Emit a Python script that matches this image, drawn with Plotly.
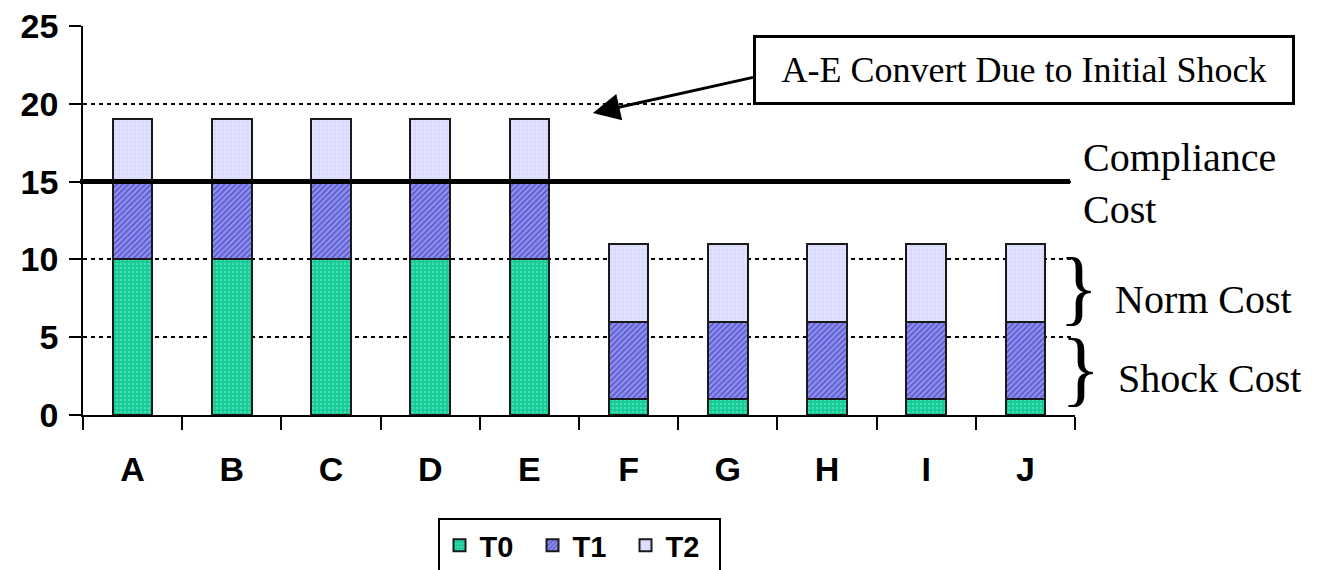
import plotly.graph_objects as go

categories = ["A", "B", "C", "D", "E", "F", "G", "H", "I", "J"]
t0 = [10, 10, 10, 10, 10, 1, 1, 1, 1, 1]
t1 = [5, 5, 5, 5, 5, 5, 5, 5, 5, 5]
t2 = [4, 4, 4, 4, 4, 5, 5, 5, 5, 5]
compliance_cost = 15
y_ticks = [0, 5, 10, 15, 20, 25]

series = [
    ("T0", t0, dict(bgcolor="#12cc98", fgcolor="#86e6c8", shape=".", size=4, solidity=0.3)),
    ("T1", t1, dict(bgcolor="#9494ee", fgcolor="#2828bc", shape="/", size=4, solidity=0.5)),
    ("T2", t2, dict(bgcolor="#d6d6ff", fgcolor="#ffffff", shape="+", size=4, solidity=0.35)),
]

fig = go.Figure()
for name, vals, pat in series:
    fig.add_trace(go.Bar(
        x=categories, y=vals, name=name,
        marker=dict(color=pat["bgcolor"], pattern=pat,
                    line=dict(color="#1a1a1a", width=2)),
    ))

fig.update_layout(
    barmode="stack",
    bargap=0.6,
    width=1320, height=570,
    margin=dict(l=83, r=245, t=26, b=155, autoexpand=False),
    plot_bgcolor="white", paper_bgcolor="white",
    font=dict(family="Liberation Sans, Arial", color="black"),
    showlegend=True,
    legend=dict(
        orientation="h", x=(579 / 1320), xref="container", xanchor="center",
        y=(570 - 518) / 570, yref="container", yanchor="top",
        font=dict(size=29, family="Liberation Sans, Arial", color="black", weight="bold"),
        bordercolor="black", borderwidth=2, bgcolor="white",
        entrywidth=48, traceorder="normal",
    ),
)

fig.update_yaxes(
    range=[0, 25], tickvals=y_ticks, ticks="outside", ticklen=12, tickwidth=1.5,
    tickcolor="black", showline=True, linecolor="black", linewidth=1.5,
    showgrid=True, gridcolor="black", griddash="4px,4px", gridwidth=2,
    zeroline=False, ticklabelstandoff=4, automargin=False,
    tickfont=dict(size=34, family="Liberation Sans, Arial", color="black", weight="bold"),
)
fig.update_xaxes(
    range=[-0.5, 9.5], tickson="boundaries", ticks="outside", ticklen=13,
    tickwidth=1.5, tickcolor="black", showline=True, linecolor="black",
    linewidth=1.5, showgrid=False, ticklabelstandoff=23, automargin=False,
    tickfont=dict(size=34, family="Liberation Sans, Arial", color="black", weight="bold"),
)

# Compliance cost line
fig.add_shape(type="line", xref="paper", yref="y", x0=-0.003, x1=0.995,
              y0=compliance_cost, y1=compliance_cost,
              line=dict(color="black", width=5))

serif = "Liberation Serif, Times New Roman"

# Boxed annotation
fig.add_annotation(
    xref="paper", yref="paper", x=0.949, y=0.887, xanchor="center", yanchor="middle",
    text="A-E Convert Due to Initial Shock", showarrow=False,
    font=dict(size=36, family=serif, color="black"),
    bordercolor="black", borderwidth=3, borderpad=8, bgcolor="white",
    width=520, height=48,
)
# Arrow
fig.add_annotation(
    x=4.64, y=19.41, ax=6.27, ay=21.72, axref="x", ayref="y", xref="x", yref="y",
    text="", showarrow=True, arrowhead=2, arrowsize=1.8, arrowwidth=3,
    arrowcolor="black",
)

fig.add_annotation(
    xref="paper", yref="paper", x=1.006, y=0.594, xanchor="left", yanchor="middle",
    text="Compliance<br>Cost", showarrow=False, align="left",
    font=dict(size=40, family=serif, color="black"),
)
fig.add_annotation(
    xref="paper", yref="paper", x=1.004, y=(415 - 287) / 389, xanchor="center",
    yanchor="middle", text="}", showarrow=False,
    font=dict(size=82, family=serif, color="black"),
)
fig.add_annotation(
    xref="paper", yref="paper", x=1.006, y=(415 - 368) / 389, xanchor="center",
    yanchor="middle", text="}", showarrow=False,
    font=dict(size=82, family=serif, color="black"),
)
fig.add_annotation(
    xref="paper", yref="paper", x=(1113 - 83) / 992, y=(415 - 299) / 389,
    xanchor="left", yanchor="middle", text="Norm Cost", showarrow=False,
    font=dict(size=40, family=serif, color="black"),
)
fig.add_annotation(
    xref="paper", yref="paper", x=(1116 - 83) / 992, y=(415 - 378) / 389,
    xanchor="left", yanchor="middle", text="Shock Cost", showarrow=False,
    font=dict(size=40, family=serif, color="black"),
)

fig.write_html(
    "out.html",
    config={"displayModeBar": False},
    post_script="document.body.style.margin='0px';document.body.style.overflow='hidden';",
)
